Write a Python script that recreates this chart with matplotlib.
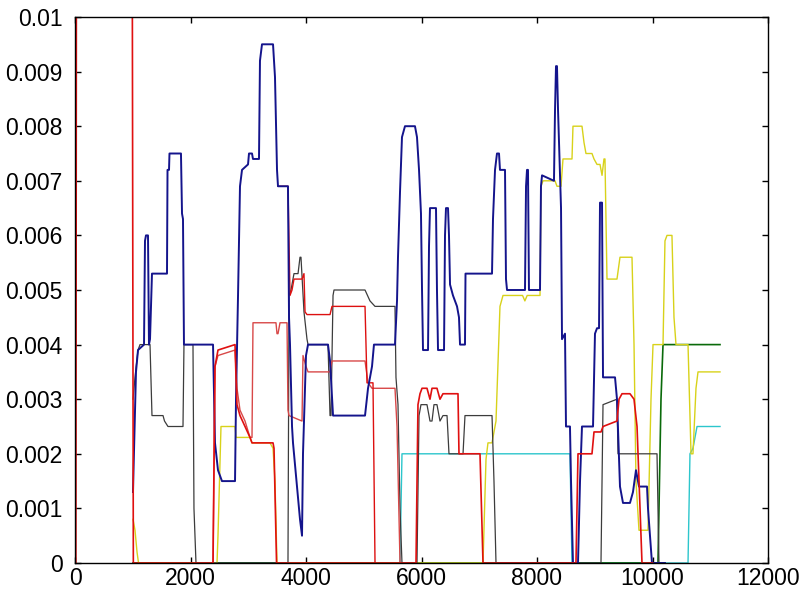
import matplotlib
matplotlib.use("Agg")
import matplotlib.pyplot as plt

# ---- data ----
blue_x = [1004, 1056, 1091, 1195, 1212, 1229, 1264, 1281, 1299, 1333, 1593, 1602, 1628, 1636, 1835, 1853, 1870, 1887,
          2390, 2424, 2476, 2545, 2771, 2788, 2823, 2857, 2892, 2996, 3013, 3065, 3082, 3186, 3203, 3238, 3429, 3463,
          3498, 3515, 3688, 3706, 3723, 3758, 3775, 3844, 3896, 3931, 3948, 4000, 4035, 4381, 4416, 4468, 5022, 5074,
          5143, 5177, 5541, 5576, 5593, 5628, 5662, 5714, 5887, 5922, 5957, 5991, 6009, 6026, 6113, 6130, 6147, 6251,
          6268, 6286, 6390, 6407, 6424, 6459, 6476, 6494, 6545, 6580, 6615, 6649, 6667, 6753, 6762, 7221, 7238, 7273,
          7307, 7342, 7359, 7446, 7463, 7481, 7792, 7810, 7827, 7844, 7861, 8052, 8069, 8087, 8294, 8312, 8329, 8346,
          8364, 8398, 8416, 8433, 8485, 8502, 8571, 8589, 8623, 8710, 8745, 8779, 8970, 9004, 9039, 9074, 9091, 9126,
          9143, 9351, 9385, 9437, 9489, 9610, 9662, 9714, 9766, 9905, 9922, 9991, 10216]
blue_y = [0.0013, 0.0035, 0.0039, 0.004, 0.0059, 0.006, 0.006, 0.004, 0.0041, 0.0053, 0.0053, 0.0072, 0.0072, 0.0075,
          0.0075, 0.0064, 0.0063, 0.004, 0.004, 0.0022, 0.0017, 0.0015, 0.0015, 0.003, 0.0049, 0.0069, 0.0072, 0.0073,
          0.0075, 0.0075, 0.0074, 0.0074, 0.0092, 0.0095, 0.0095, 0.0089, 0.0072, 0.0069, 0.0069, 0.0045, 0.004,
          0.0025, 0.0022, 0.0014, 0.0008, 0.0005, 0.002, 0.0038, 0.004, 0.004, 0.0037, 0.0027, 0.0027, 0.0032, 0.0036,
          0.004, 0.004, 0.0048, 0.0056, 0.0068, 0.0078, 0.008, 0.008, 0.0078, 0.0072, 0.0064, 0.005, 0.0039, 0.0039,
          0.0058, 0.0065, 0.0065, 0.005, 0.0039, 0.0039, 0.006, 0.0065, 0.0065, 0.006, 0.0051, 0.0049, 0.0048, 0.0047,
          0.0045, 0.004, 0.004, 0.0053, 0.0053, 0.0063, 0.0072, 0.0075, 0.0075, 0.0072, 0.0072, 0.0052, 0.005, 0.005,
          0.0069, 0.0072, 0.0072, 0.005, 0.005, 0.0069, 0.0071, 0.007, 0.0083, 0.0091, 0.0091, 0.0083, 0.0071, 0.0065,
          0.0041, 0.0042, 0.0025, 0.0025, 0.0015, 0.0, 0.0, 0.0015, 0.0025, 0.0025, 0.0042, 0.0043, 0.0043, 0.0066,
          0.0066, 0.0034, 0.0034, 0.003, 0.0014, 0.0011, 0.0011, 0.0013, 0.0017, 0.0014, 0.0014, 0.001, 0.0, 0.0]

red_x = [15, 25, 990, 1010, 2390, 2424, 2476, 2771, 2788, 2805, 2857, 2944, 3030, 3065, 3429, 3446, 3490, 5905, 5939,
         5974, 6009, 6095, 6147, 6182, 6268, 6320, 6372, 6632, 6649, 7013, 7065, 8675, 8710, 8952, 8987, 9108, 9143,
         9385, 9420, 9472, 9610, 9680, 9732, 9784, 9818, 10000]
red_y = [0.0, 0.012, 0.012, 0.0, 0.0, 0.0036, 0.0039, 0.004, 0.0034, 0.0029, 0.0027, 0.0025, 0.0023, 0.0022, 0.0022,
         0.0021, 0.0, 0.0, 0.0029, 0.0031, 0.0032, 0.0032, 0.003, 0.0032, 0.0032, 0.003, 0.0031, 0.0031, 0.002, 0.002,
         0.0, 0.0, 0.002, 0.002, 0.0024, 0.0024, 0.0025, 0.0026, 0.003, 0.0031, 0.0031, 0.003, 0.0025, 0.001, 0.0, 0.0]

salmon_x = [2390, 2424, 2476, 2771, 2805, 2857, 2944, 3030, 3065, 3082, 3480, 3498, 3515, 3550, 3671, 3688, 3706, 3931,
            3948, 4000, 4035, 4416, 4450, 5022, 5074, 5143, 5541, 5576, 5628]
salmon_y = [0.0, 0.0036, 0.0038, 0.0039, 0.0032, 0.0028, 0.0026, 0.0023, 0.0023, 0.0044, 0.0044, 0.0042, 0.0042,
            0.0044, 0.0044, 0.0028, 0.0027, 0.0026, 0.0038, 0.0036, 0.0035, 0.0035, 0.0037, 0.0037, 0.0033, 0.0032,
            0.0032, 0.0025, 0.0]

redc_x = [3515, 3688, 3723, 3758, 3792, 3931, 3965, 3983, 4017, 4416, 4450, 5022, 5056, 5160, 5195]
redc_y = [0.0069, 0.0069, 0.0049, 0.005, 0.0052, 0.0052, 0.0053, 0.0046, 0.00455, 0.00455, 0.0047, 0.0047, 0.0033,
          0.0033, 0.0]

black_x = [1005, 1039, 1091, 1126, 1299, 1333, 1524, 1550, 1610, 1870, 1887, 2043, 2060, 2095, 3688, 3706, 3740, 3792,
           3862, 3896, 3913, 3965, 4017, 4035, 4381, 4416, 4433, 4468, 4485, 5022, 5108, 5195, 5541, 5558, 5593, 5628,
           5662, 5922, 5957, 5991, 6095, 6147, 6182, 6216, 6268, 6320, 6372, 6442, 6476, 6719, 6753, 7221, 7255, 7290,
           9108, 9143, 9385, 9403, 10078, 10112]
black_y = [0.003, 0.0034, 0.0039, 0.004, 0.004, 0.0027, 0.0027, 0.0026, 0.0025, 0.0025, 0.004, 0.004, 0.001, 0.0, 0.0,
           0.0049, 0.005, 0.0053, 0.0053, 0.0056, 0.0056, 0.0046, 0.0041, 0.004, 0.004, 0.0027, 0.0027, 0.0049, 0.005,
           0.005, 0.0048, 0.0047, 0.0047, 0.0034, 0.0029, 0.001, 0.0, 0.0, 0.0027, 0.0029, 0.0029, 0.0026, 0.0026,
           0.0029, 0.0029, 0.0026, 0.0027, 0.0027, 0.002, 0.002, 0.0027, 0.0027, 0.0015, 0.0, 0.0, 0.0029, 0.003,
           0.002, 0.002, 0.0]

yellow_x = [1005, 1039, 1074, 1100, 2459, 2476, 2528, 2771, 2788, 3030, 3065, 3377, 3429, 3463, 3498, 7065, 7117, 7151,
            7221, 7255, 7290, 7359, 7411, 7750, 7790, 7830, 8052, 8069, 8104, 8312, 8346, 8416, 8450, 8606, 8623, 8779,
            8814, 8848, 8952, 8987, 9039, 9091, 9126, 9160, 9177, 9212, 9385, 9437, 9645, 9680, 9714, 9766, 9922, 9974,
            10009, 10182, 10216, 10251, 10337, 10372, 10407, 10615, 10667, 10701, 10753, 10788, 11169]
yellow_y = [0.0008, 0.0006, 0.0002, 0.0, 0.0, 0.0005, 0.0025, 0.0025, 0.0023, 0.0023, 0.0022, 0.0022, 0.0021, 0.0015,
            0.0, 0.0, 0.0019, 0.0022, 0.0022, 0.0024, 0.0026, 0.0047, 0.0049, 0.0049, 0.0048, 0.0049, 0.0049, 0.0069,
            0.007, 0.007, 0.0069, 0.0069, 0.0074, 0.0074, 0.008, 0.008, 0.0077, 0.0075, 0.0075, 0.0074, 0.0073, 0.0073,
            0.0071, 0.0074, 0.0074, 0.0052, 0.0052, 0.0056, 0.0056, 0.004, 0.0015, 0.0006, 0.0006, 0.003, 0.004, 0.004,
            0.0059, 0.006, 0.006, 0.0045, 0.004, 0.004, 0.002, 0.002, 0.0032, 0.0035, 0.0035]

cyan_x = [1005, 5628, 5662, 8571, 8606, 10615, 10649, 10701, 10771, 11169]
cyan_y = [0.0, 0.0, 0.002, 0.002, 0.0, 0.0, 0.002, 0.0021, 0.0025, 0.0025]

green_x = [1005, 10095, 10147, 10182, 11169]
green_y = [0.0, 0.0, 0.003, 0.004, 0.004]

x_ticks = [0, 2000, 4000, 6000, 8000, 10000, 12000]
y_ticks = [0, 0.001, 0.002, 0.003, 0.004, 0.005, 0.006, 0.007, 0.008, 0.009, 0.01]
y_tick_labels = ["0", "0.001", "0.002", "0.003", "0.004", "0.005", "0.006", "0.007", "0.008", "0.009", "0.01"]

# ---- figure ----
plt.rcParams['font.family'] = ['Liberation Sans', 'DejaVu Sans']
fig = plt.figure(figsize=(7.99, 5.96), dpi=100)
ax = fig.add_axes([75 / 799, 1 - 563 / 596, 693 / 799, 546 / 596])

ax.plot(cyan_x, cyan_y, color='#2cc6cc', lw=1.0)
ax.plot(green_x, green_y, color='#0a6a0a', lw=1.2)
ax.plot(yellow_x, yellow_y, color='#d8d21a', lw=1.0)
ax.plot(black_x, black_y, color='#3c3c3c', lw=0.9)
ax.plot(salmon_x, salmon_y, color='#d84848', lw=1.0)
ax.plot(redc_x, redc_y, color='#dd1010', lw=1.0)
ax.plot(blue_x, blue_y, color='#14148c', lw=1.4)
ax.plot(red_x, red_y, color='#e01010', lw=1.2)

ax.set_xlim(0, 12000)
ax.set_ylim(0, 0.01)
ax.set_xticks(x_ticks)
ax.set_xticklabels([str(t) for t in x_ticks])
ax.set_yticks(y_ticks)
ax.set_yticklabels(y_tick_labels)
ax.tick_params(direction='in', length=4.5, width=1.0, top=True, right=True, labelsize=16.5, color='black')
ax.tick_params(axis='y', pad=9)
ax.tick_params(axis='x', pad=3)
for s in ax.spines.values():
    s.set_linewidth(1.0)
    s.set_color('black')

fig.savefig('out.png', dpi=100)
